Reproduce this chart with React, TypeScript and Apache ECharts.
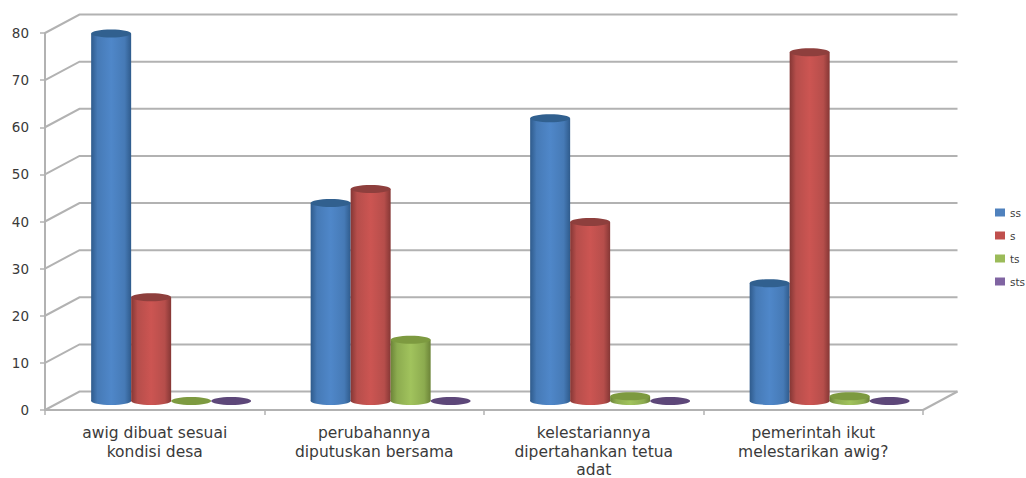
import React, { useEffect, useRef } from "react";
import * as echarts from "echarts";

const categories = [
  "awig dibuat sesuai\nkondisi desa",
  "perubahannya\ndiputuskan bersama",
  "kelestariannya\ndipertahankan tetua\nadat",
  "pemerintah ikut\nmelestarikan awig?",
];
const seriesNames = ["ss", "s", "ts", "sts"];
const ss = [78, 42, 60, 25];
const s = [22, 45, 38, 74];
const ts = [0, 13, 1, 1];
const sts = [0, 0, 0, 0];
const seriesValues = [ss, s, ts, sts];
const yTicks = [0, 10, 20, 30, 40, 50, 60, 70, 80];

const legendColors = ["#4f81bd", "#c0504d", "#9bbb59", "#8064a2"];
const edgeColors = ["#2f5b8c", "#853735", "#6c8438", "#523e6e"];
const midColors = ["#467ab6", "#b64e4b", "#8cab4f", "#725991"];
const lightColors = ["#4f87c9", "#cc5552", "#a1c35d", "#8a6db0"];
const topColors = ["#31608f", "#8e3f3d", "#7d9a40", "#5d4779"];

const DEPTH_DX = 34.5;
const DEPTH_DY = -18.5;
const BAR_DX = 16.4;
const BAR_DY = -9;
const BAR_RATIO = 40 / 219.5;
const ELLIPSE_RY = 4;
const GRID_COLOR = "#b2b2b2";

function cylinderRenderer(seriesIndex: number) {
  return (params: any, api: any) => {
    const cat = api.value(0);
    const val = api.value(1);
    const band = api.size([1, 0])[0];
    const width = band * BAR_RATIO;
    const center = api.coord([cat, val]);
    const base = api.coord([cat, 0]);
    const cx = center[0] + BAR_DX + (seriesIndex - 1.5) * width;
    const topY = center[1] + BAR_DY;
    const baseY = base[1] + BAR_DY;
    const rx = width / 2;
    const fill = {
      type: "linear",
      x: 0,
      y: 0,
      x2: 1,
      y2: 0,
      colorStops: [
        { offset: 0, color: edgeColors[seriesIndex] },
        { offset: 0.16, color: midColors[seriesIndex] },
        { offset: 0.5, color: lightColors[seriesIndex] },
        { offset: 0.84, color: midColors[seriesIndex] },
        { offset: 1, color: edgeColors[seriesIndex] },
      ],
    };
    const children: any[] = [];
    if (val > 0) {
      children.push({
        type: "ellipse",
        shape: { cx, cy: baseY, rx, ry: ELLIPSE_RY },
        style: { fill },
      });
      children.push({
        type: "rect",
        shape: { x: cx - rx, y: topY, width, height: baseY - topY },
        style: { fill },
      });
    }
    children.push({
      type: "ellipse",
      shape: { cx, cy: topY, rx, ry: ELLIPSE_RY },
      style: { fill: topColors[seriesIndex] },
    });
    return { type: "group", children };
  };
}

function wallRenderer(params: any, api: any) {
  const v = api.value(0);
  const sys = params.coordSys;
  const y = api.coord([0, v])[1];
  const children: any[] = [
    {
      type: "polyline",
      shape: {
        points: [
          [sys.x, y],
          [sys.x + DEPTH_DX, y + DEPTH_DY],
          [sys.x + sys.width + DEPTH_DX, y + DEPTH_DY],
        ],
      },
      style: { stroke: GRID_COLOR, lineWidth: 2, fill: "none" },
    },
  ];
  if (v === 0) {
    children.push({
      type: "line",
      shape: {
        x1: sys.x + sys.width,
        y1: y,
        x2: sys.x + sys.width + DEPTH_DX,
        y2: y + DEPTH_DY,
      },
      style: { stroke: GRID_COLOR, lineWidth: 2 },
    });
  }
  return { type: "group", children };
}

export default function App() {
  const ref = useRef<HTMLDivElement>(null);
  useEffect(() => {
    const chart = echarts.init(ref.current!, undefined, { renderer: "svg" });
    const font = "'DejaVu Sans'";
    chart.setOption({
      animation: false,
      backgroundColor: "#ffffff",
      textStyle: { fontFamily: font },
      grid: {
        left: 45,
        right: 103,
        top: 33,
        bottom: 68,
        containLabel: false,
        outerBoundsMode: "none",
      },
      legend: {
        orient: "vertical",
        left: 990,
        top: 202,
        icon: "rect",
        itemWidth: 10,
        itemHeight: 8,
        itemGap: 12,
        data: seriesNames,
        selectedMode: false,
        textStyle: { fontSize: 10.5, color: "#404040", fontFamily: font },
      },
      xAxis: {
        type: "category",
        data: categories,
        axisLine: { lineStyle: { color: GRID_COLOR, width: 2 } },
        axisTick: { show: true, length: 5, lineStyle: { color: GRID_COLOR, width: 1.5 } },
        axisLabel: {
          interval: 0,
          margin: 14,
          fontSize: 15.5,
          lineHeight: 18.5,
          color: "#3a3a3a",
          fontFamily: font,
        },
        splitLine: { show: false },
      },
      yAxis: {
        type: "value",
        min: 0,
        max: 80,
        interval: 10,
        axisLine: { show: true, lineStyle: { color: GRID_COLOR, width: 2 } },
        axisTick: { show: true, length: 5, lineStyle: { color: GRID_COLOR, width: 1.5 } },
        axisLabel: {
          margin: 16,
          fontSize: 13.5,
          color: "#3a3a3a",
          fontFamily: font,
          padding: [2, 0, 0, 0],
        },
        splitLine: { show: false },
      },
      series: [
        {
          type: "custom",
          name: "wall",
          silent: true,
          clip: false,
          z: 1,
          data: yTicks.map((v) => [v]),
          encode: { y: 0 },
          renderItem: wallRenderer,
        },
        ...seriesNames.map((name, i) => ({
          type: "custom",
          name,
          silent: true,
          clip: false,
          z: 2 + i,
          itemStyle: { color: legendColors[i] },
          data: seriesValues[i].map((v, c) => [c, v]),
          encode: { x: 0, y: 1 },
          renderItem: cylinderRenderer(i),
        })),
      ],
    });
    return () => chart.dispose();
  }, []);
  return (
    <div
      ref={ref}
      style={{ position: "absolute", left: 0, top: 0, width: 1026, height: 478 }}
    />
  );
}
